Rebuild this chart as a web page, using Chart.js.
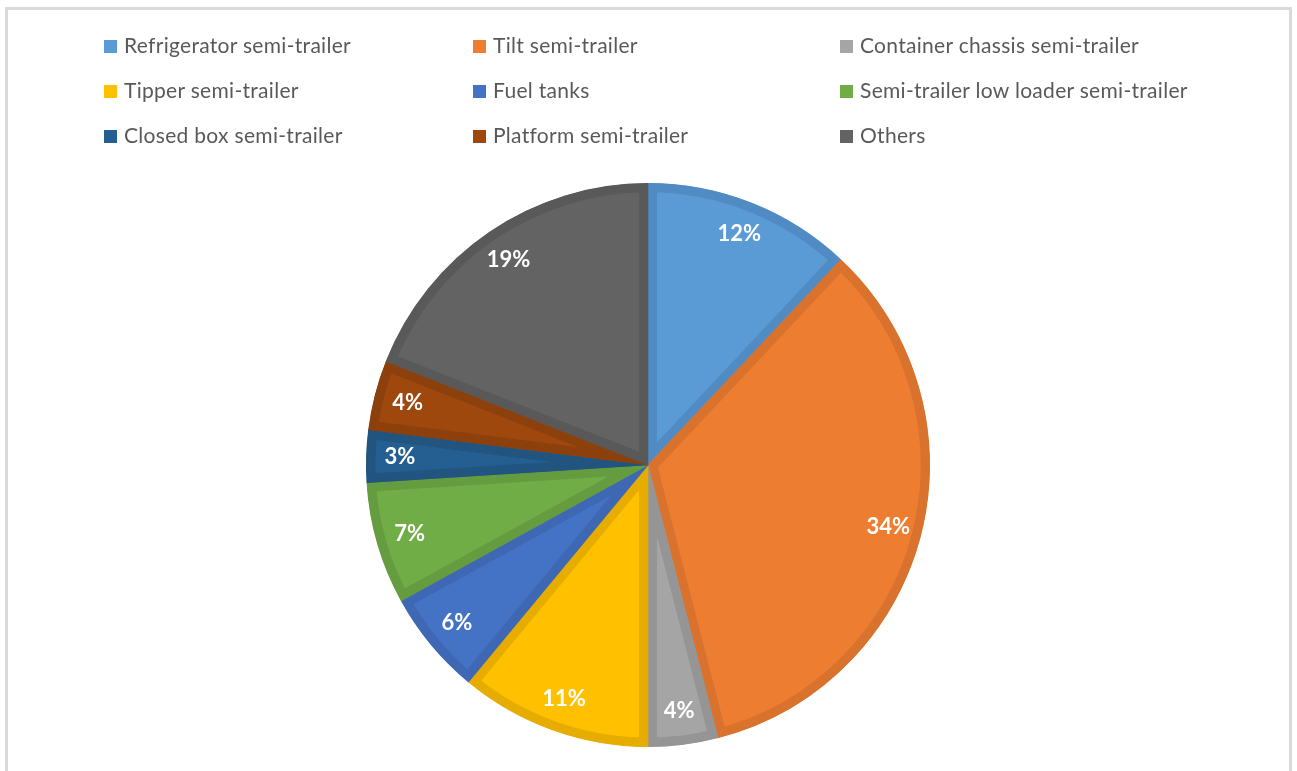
<!DOCTYPE html>
<html>
<head>
<meta charset="utf-8">
<title>Semi-trailer types</title>
<script src="https://cdn.jsdelivr.net/npm/chart.js@4.4.1/dist/chart.umd.min.js"></script>
<style>
  html, body { margin: 0; padding: 0; background: #fff; }
  #wrap { position: relative; width: 1297px; height: 771px; overflow: hidden; }
  #frame {
    position: absolute; left: 5px; top: 7px; width: 1287px; height: 800px;
    border: 3px solid #d9d9d9; box-sizing: border-box;
  }
  #chart { position: absolute; left: 0; top: 0; }
  .legend-item {
    position: absolute; height: 24px; line-height: 24px;
    font-family: Lato, "Open Sans", sans-serif; font-size: 21px; letter-spacing: 0.3px;
    color: #595959; white-space: nowrap;
  }
  .legend-item .swatch {
    display: inline-block; width: 13px; height: 13px; margin-right: 7px;
    vertical-align: 0px;
  }
</style>
</head>
<body>
<div id="wrap">
  <div id="frame"></div>
  <canvas id="chart" width="1297" height="771"></canvas>
  <div id="legend"></div>
</div>
<script>
(function() {
  'use strict';

  // Trailer categories and their share (%)
  const categories = [
    'Refrigerator semi-trailer',
    'Tilt semi-trailer',
    'Container chassis semi-trailer',
    'Tipper semi-trailer',
    'Fuel tanks',
    'Semi-trailer low loader semi-trailer',
    'Closed box semi-trailer',
    'Platform semi-trailer',
    'Others'
  ];
  const shares = [12, 34, 4, 11, 6, 7, 3, 4, 19];

  const fillColors = ['#5b9bd5', '#ed7d31', '#a5a5a5', '#ffc000', '#4472c4', '#70ad47', '#255e91', '#9e480e', '#636363'];
  const edgeColors = ['#508cc3', '#d9722d', '#959595', '#e6ad00', '#3e68b3', '#659c40', '#21547f', '#8c400c', '#595959'];

  // Legend grid: three columns, filled row by row
  const legendCols = [104, 473, 840];
  const legendRows = [33, 78, 123];

  function buildLegend() {
    const legend = document.getElementById('legend');
    categories.forEach((name, i) => {
      const item = document.createElement('div');
      item.className = 'legend-item';
      item.style.left = legendCols[i % 3] + 'px';
      item.style.top = legendRows[Math.floor(i / 3)] + 'px';
      const swatch = document.createElement('span');
      swatch.className = 'swatch';
      swatch.style.background = fillColors[i];
      item.appendChild(swatch);
      item.appendChild(document.createTextNode(name));
      legend.appendChild(item);
    });
  }

  // Percent labels drawn inside each slice
  const sliceLabels = {
    id: 'sliceLabels',
    afterDatasetsDraw(chart) {
      const ctx = chart.ctx;
      const meta = chart.getDatasetMeta(0);
      ctx.save();
      ctx.fillStyle = '#fff';
      ctx.font = 'bold 22px Lato, "Open Sans", sans-serif';
      ctx.textAlign = 'center';
      ctx.textBaseline = 'middle';
      meta.data.forEach((arc, i) => {
        const p = arc.getProps(['x', 'y', 'startAngle', 'endAngle', 'outerRadius'], true);
        const mid = (p.startAngle + p.endAngle) / 2;
        const r = p.outerRadius * 0.88;
        ctx.fillText(shares[i] + '%', p.x + Math.cos(mid) * r, p.y + Math.sin(mid) * r);
      });
      ctx.restore();
    }
  };

  function init() {
    buildLegend();
    new Chart(document.getElementById('chart'), {
      type: 'pie',
      data: {
        labels: categories,
        datasets: [{
          data: shares,
          backgroundColor: fillColors,
          borderColor: edgeColors,
          borderWidth: 9,
          borderAlign: 'inner'
        }]
      },
      options: {
        responsive: false,
        animation: false,
        layout: { padding: { top: 183, bottom: 24, left: 366, right: 367 } },
        plugins: {
          legend: { display: false },
          tooltip: { enabled: false }
        }
      },
      plugins: [sliceLabels]
    });
  }

  init();
})();
</script>
</body>
</html>
